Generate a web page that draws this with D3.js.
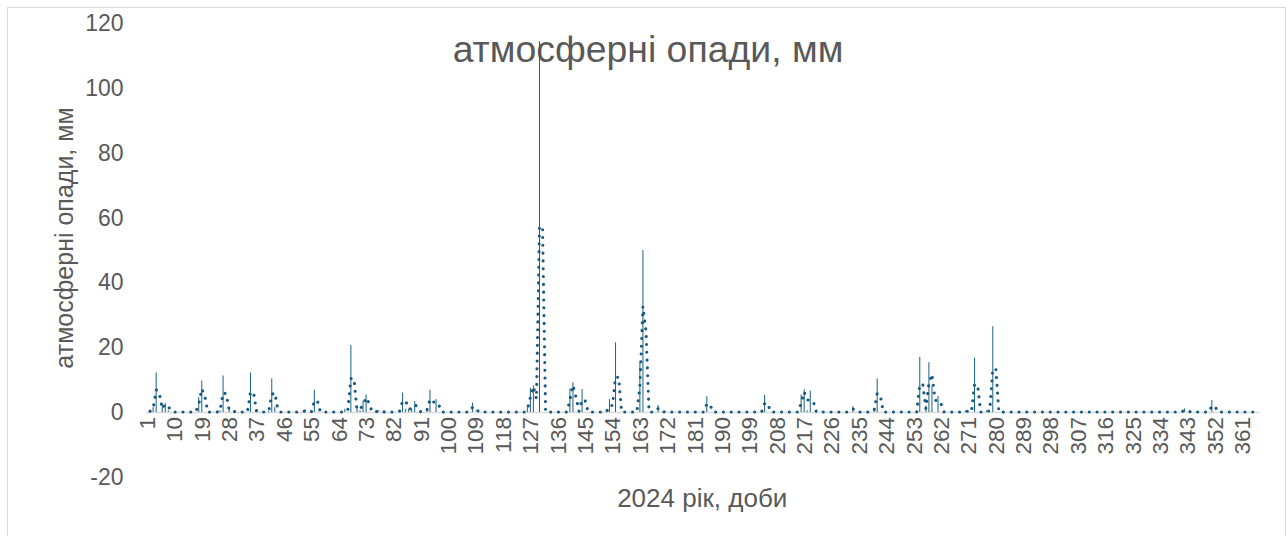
<!DOCTYPE html>
<html><head><meta charset="utf-8">
<script src="https://cdn.jsdelivr.net/npm/d3@7"></script>
<style>
body{margin:0;background:#fff}
svg{display:block;font-family:"Liberation Sans",Arial,sans-serif}
</style>
</head><body>
<svg id="chart" width="1287" height="536"></svg>
<script>
// ---- data ----
const chartTitle = "атмосферні опади, мм";
const yAxisTitle = "атмосферні опади, мм";
const xAxisTitle = "2024 рік, доби";
const dayCount = 366;
// days with precipitation (all other days = 0 mm)
const rainDays = [2,3,4,6,7,8,18,19,25,26,28,35,37,41,42,43,53,56,66,68,70,71,72,73,77,84,85,86,87,88,89,93,94,96,108,126,127,128,130,140,141,143,144,153,155,163,164,169,185,204,216,217,218,219,233,240,241,255,257,258,259,261,270,273,277,279,342,351];
const rainMm   = [0.5,1.5,12.2,2,2.8,0.5,4.6,9.7,0.5,11.3,1.4,12.2,0.5,0.4,10.4,1.5,0.8,6.9,1,20.7,1.5,0.5,3.5,5.4,0.6,0.5,6,1,1,1,3.4,1,6.9,4,2.9,1.5,7.5,8.2,114.5,7.3,9.2,0.5,7.1,4,21.5,15.2,50,2.2,4.9,5.3,5.4,7,0.5,6.6,1.8,1,10.4,17,2,15.4,8,5,0.5,16.8,0.6,26.5,1.1,3.7];
const yTickValues = [-20,0,20,40,60,80,100,120];
const xTickEvery = 9;
const movingAvgPeriod = 2;

// ---- build series ----
const days = d3.range(1, dayCount + 1);
const rainByDay = new Map(rainDays.map((d, i) => [d, rainMm[i]]));
const daily = days.map(d => ({day: d, mm: rainByDay.get(d) || 0}));
const trend = daily.slice(movingAvgPeriod - 1).map((p, i) => ({
  day: p.day,
  mm: d3.mean(daily.slice(i, i + movingAvgPeriod), q => q.mm)
}));

// ---- layout ----
const svg = d3.select("#chart");
const plot = {left: 145.5, right: 1259, top: 23.3, bottom: 476.8};
const textCol = "#595959";
const barCol = "#1b6283";
const trendCol = "#165a80";
const fontFam = "Liberation Sans, Arial, sans-serif";

svg.append("rect").attr("x", 7.5).attr("y", 7.5).attr("width", 1278).attr("height", 540)
  .attr("fill", "#fff").attr("stroke", "#d9d9d9").attr("stroke-width", 1);

const x = d3.scaleBand().domain(days).range([plot.left, plot.right]).paddingInner(0).paddingOuter(0);
const cx = d => x(d) + x.bandwidth() / 2;
const y = d3.scaleLinear().domain([-20, 120]).range([plot.bottom, plot.top]);

// title
svg.append("text").attr("x", 648).attr("y", 62).attr("text-anchor", "middle")
  .attr("fill", textCol).style("font-size", "37.4px").text(chartTitle);

// y axis
const yAxis = svg.append("g").attr("transform", `translate(${plot.left},0)`)
  .call(d3.axisLeft(y).tickValues(yTickValues).tickSize(0).tickPadding(22).tickFormat(d => String(d)));
yAxis.select(".domain").remove();
yAxis.selectAll("text").attr("fill", textCol).style("font-size", "23px").style("font-family", fontFam);

// x axis
const xAxis = svg.append("g").attr("transform", `translate(0,${y(0)})`)
  .call(d3.axisBottom(x).tickValues(days.filter(d => (d - 1) % xTickEvery === 0)).tickSize(0));
xAxis.select(".domain").attr("stroke", "#d9d9d9").attr("stroke-width", 1.5);
xAxis.selectAll("text")
  .attr("transform", "rotate(-90)")
  .attr("x", -5).attr("y", 0).attr("dy", "0.35em")
  .style("text-anchor", "end")
  .attr("fill", textCol).style("font-size", "22.5px").style("font-family", fontFam);

// axis titles
svg.append("text").attr("transform", "translate(73,238) rotate(-90)").attr("text-anchor", "middle")
  .attr("fill", textCol).style("font-size", "25px").text(yAxisTitle);
svg.append("text").attr("x", (plot.left + plot.right) / 2).attr("y", 507).attr("text-anchor", "middle")
  .attr("fill", textCol).style("font-size", "26px").text(xAxisTitle);

// bars
svg.append("g").selectAll("rect").data(daily.filter(d => d.mm > 0)).join("rect")
  .attr("x", d => cx(d.day) - 0.5).attr("width", 1)
  .attr("y", d => y(d.mm)).attr("height", d => y(0) - y(d.mm))
  .attr("fill", barCol);

// moving average trendline (dotted)
svg.append("path").datum(trend)
  .attr("d", d3.line().x(d => cx(d.day)).y(d => y(d.mm)))
  .attr("fill", "none").attr("stroke", trendCol).attr("stroke-width", 3.1)
  .attr("stroke-linecap", "round").attr("stroke-linejoin", "round")
  .attr("stroke-dasharray", "0.01 7.8");
</script>
</body></html>
